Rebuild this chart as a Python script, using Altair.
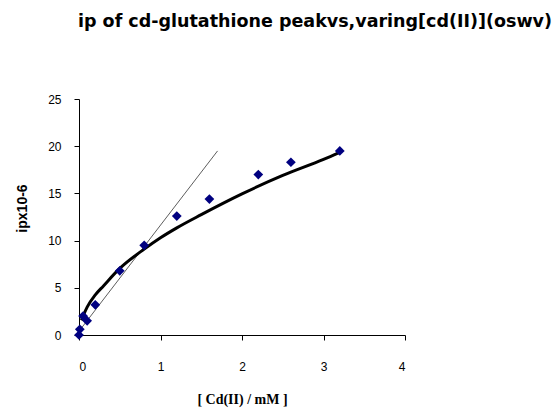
import altair as alt
import pandas as pd

# measured points
cd_x = [0.0, 0.01, 0.05, 0.1, 0.2, 0.5, 0.8, 1.2, 1.6, 2.2, 2.6, 3.2]
ip_y = [0.0, 0.6, 2.0, 1.5, 3.2, 6.8, 9.5, 12.6, 14.4, 17.0, 18.3, 19.5]

# thick fitted curve
curve_x = [0.03, 0.05, 0.1, 0.2, 0.3, 0.5, 0.8, 1.0, 1.2, 1.5, 2.0, 2.5, 3.0, 3.2]
curve_y = [1.55, 2.0, 2.95, 4.25, 5.2, 7.05, 9.1, 10.3, 11.35, 12.75, 14.95, 16.9, 18.6, 19.35]

# thin straight line
lin_x = [0.0, 1.7]
lin_y = [0.4, 19.5]

pts = pd.DataFrame({"x": cd_x, "y": ip_y})
crv = pd.DataFrame({"x": curve_x, "y": curve_y})
lin = pd.DataFrame({"x": lin_x, "y": lin_y})

xs = alt.Scale(domain=[0, 4], nice=False)
ys = alt.Scale(domain=[0, 25], nice=False)

xaxis = alt.Axis(title="[ Cd(II) / mM ]", values=[0, 1, 2, 3, 4], grid=False,
                 domainColor="black", tickColor="black", tickSize=5,
                 labelFont="Liberation Sans", labelFontSize=12, labelColor="black",
                 labelPadding=21, titleFont="Liberation Serif", titleFontSize=14,
                 titleFontWeight="bold", titleColor="black", titlePadding=20)
yaxis = alt.Axis(title="ipx10-6", values=[0, 5, 10, 15, 20, 25], grid=False,
                 domainColor="black", tickColor="black", tickSize=5,
                 labelFont="Liberation Sans", labelFontSize=12, labelColor="black",
                 labelPadding=13, titleFont="Liberation Sans", titleFontSize=14,
                 titleFontWeight="bold", titleColor="black",
                 titleX=-50, titleY=109)

base_x = alt.X("x:Q", scale=xs, axis=xaxis)
base_y = alt.Y("y:Q", scale=ys, axis=yaxis)

thin = alt.Chart(lin).mark_line(color="#333333", strokeWidth=0.8).encode(x=base_x, y=base_y)
thick = alt.Chart(crv).mark_line(color="black", strokeWidth=3, interpolate="monotone").encode(x=base_x, y=base_y)
dots = alt.Chart(pts).mark_point(shape="diamond", filled=True, color="#000080", size=95, opacity=1).encode(x=base_x, y=base_y)

chart = (thin + thick + dots).properties(
    width=326, height=236,
    autosize=alt.AutoSizeParams(type="none"),
    padding={"left": 79, "top": 99, "right": 150, "bottom": 83},
    title=alt.TitleParams("ip of cd-glutathione peakvs,varing[cd(II)](oswv)",
                          anchor="start", frame="group", dx=-1, offset=63,
                          font="DejaVu Sans", fontSize=17.5, fontWeight="bold", color="black"),
).configure(background="white").configure_view(stroke=None)

chart.save("out.html", embed_options={"renderer": "svg", "actions": False})
